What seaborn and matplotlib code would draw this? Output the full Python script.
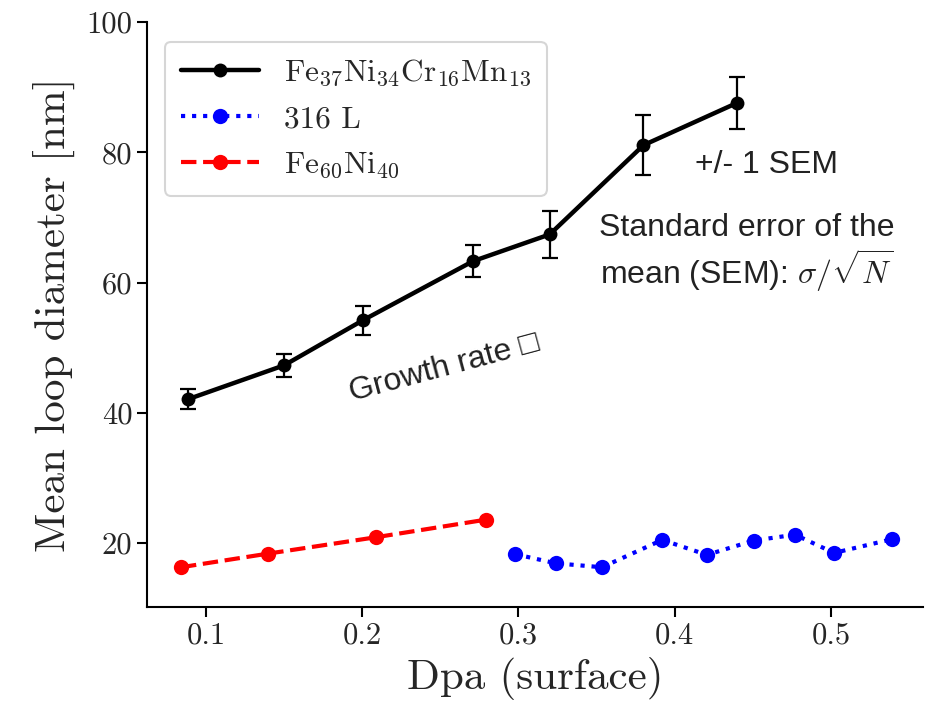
import matplotlib
matplotlib.use("Agg")
import matplotlib.pyplot as plt
import seaborn as sns
import numpy as np
import pandas as pd

# ---- data ----
hea_x = [0.0885, 0.150, 0.2003, 0.271, 0.320, 0.380, 0.440]
hea_y = [42.1, 47.3, 54.2, 63.3, 67.4, 81.1, 87.6]
hea_err = [1.5, 1.8, 2.2, 2.5, 3.6, 4.6, 4.0]

ss_x = [0.298, 0.324, 0.3535, 0.392, 0.4206, 0.4506, 0.477, 0.502, 0.539]
ss_y = [18.3, 16.9, 16.3, 20.5, 18.2, 20.4, 21.3, 18.5, 20.6]

feni_x = [0.084, 0.140, 0.2086, 0.279]
feni_y = [16.3, 18.4, 20.9, 23.6]

labels = [r"Fe$_{37}$Ni$_{34}$Cr$_{16}$Mn$_{13}$", "316 L", r"Fe$_{60}$Ni$_{40}$"]
xticks = [0.1, 0.2, 0.3, 0.4, 0.5]
yticks = [20, 40, 60, 80, 100]

sns.set_style("ticks")
plt.rcParams["font.family"] = ["cmr10"]
plt.rcParams["mathtext.fontset"] = "cm"
plt.rcParams["axes.unicode_minus"] = False
plt.rcParams["axes.formatter.use_mathtext"] = True

fig = plt.figure(figsize=(9.25, 7.12), dpi=100)
ax = fig.add_axes([0.159, 0.1475, 0.839, 0.8215])

df_hea = pd.DataFrame({"x": hea_x, "y": hea_y})
df_ss = pd.DataFrame({"x": ss_x, "y": ss_y})
df_fn = pd.DataFrame({"x": feni_x, "y": feni_y})

ax.errorbar(hea_x, hea_y, yerr=hea_err, fmt="none", ecolor="black",
            elinewidth=1.6, capsize=6, capthick=1.6, zorder=3)
sns.lineplot(data=df_hea, x="x", y="y", ax=ax, color="black", lw=3.2,
             marker="o", markersize=10, markeredgewidth=0, label=labels[0], zorder=4)
sns.lineplot(data=df_ss, x="x", y="y", ax=ax, color="blue", lw=3, linestyle=":",
             marker="o", markersize=11, markeredgewidth=0, label=labels[1], zorder=4)
sns.lineplot(data=df_fn, x="x", y="y", ax=ax, color="red", lw=3, linestyle="--",
             marker="o", markersize=11, markeredgewidth=0, label=labels[2], zorder=4)

ax.set_xlim(0.0623, 0.559)
ax.set_ylim(10.2, 100)
ax.set_xticks(xticks)
ax.set_yticks(yticks)
ax.set_xticklabels([f"{t:.1f}" for t in xticks])
ax.set_yticklabels([str(t) for t in yticks])
ax.tick_params(axis="both", labelsize=22, length=7, width=1.5, color="black", direction="out")
for s in ["left", "bottom"]:
    ax.spines[s].set_linewidth(1.5)
    ax.spines[s].set_color("black")
for s in ["top", "right"]:
    ax.spines[s].set_visible(False)

ax.set_xlabel("Dpa (surface)", fontsize=31, labelpad=6)
ax.set_ylabel("Mean loop diameter [nm]", fontsize=31, labelpad=8)

leg = ax.legend(loc="upper left", fontsize=22.5, frameon=True, fancybox=True,
                bbox_to_anchor=(0.003, 0.993), handlelength=2.5, handletextpad=0.8,
                borderpad=0.5, labelspacing=0.55)
leg.get_frame().set_edgecolor("#cccccc")
leg.get_frame().set_linewidth(1.5)

sans = ["Liberation Sans", "DejaVu Sans"]
ax.text(0.4589, 78.0, "+/- 1 SEM", fontsize=23, family=sans, ha="center", va="center",
        color="#222222")
ax.text(0.446, 64.5, "Standard error of the\nmean (SEM): $\\sigma/\\sqrt{N}$",
        fontsize=23, family=sans, ha="center", va="center", linespacing=1.1,
        color="#222222")
ax.text(0.2526, 46.9, "Growth rate \u25a1", fontsize=23, family=sans, ha="center",
        va="center", rotation=15, color="#222222")

fig.savefig("out.png", dpi=100)
